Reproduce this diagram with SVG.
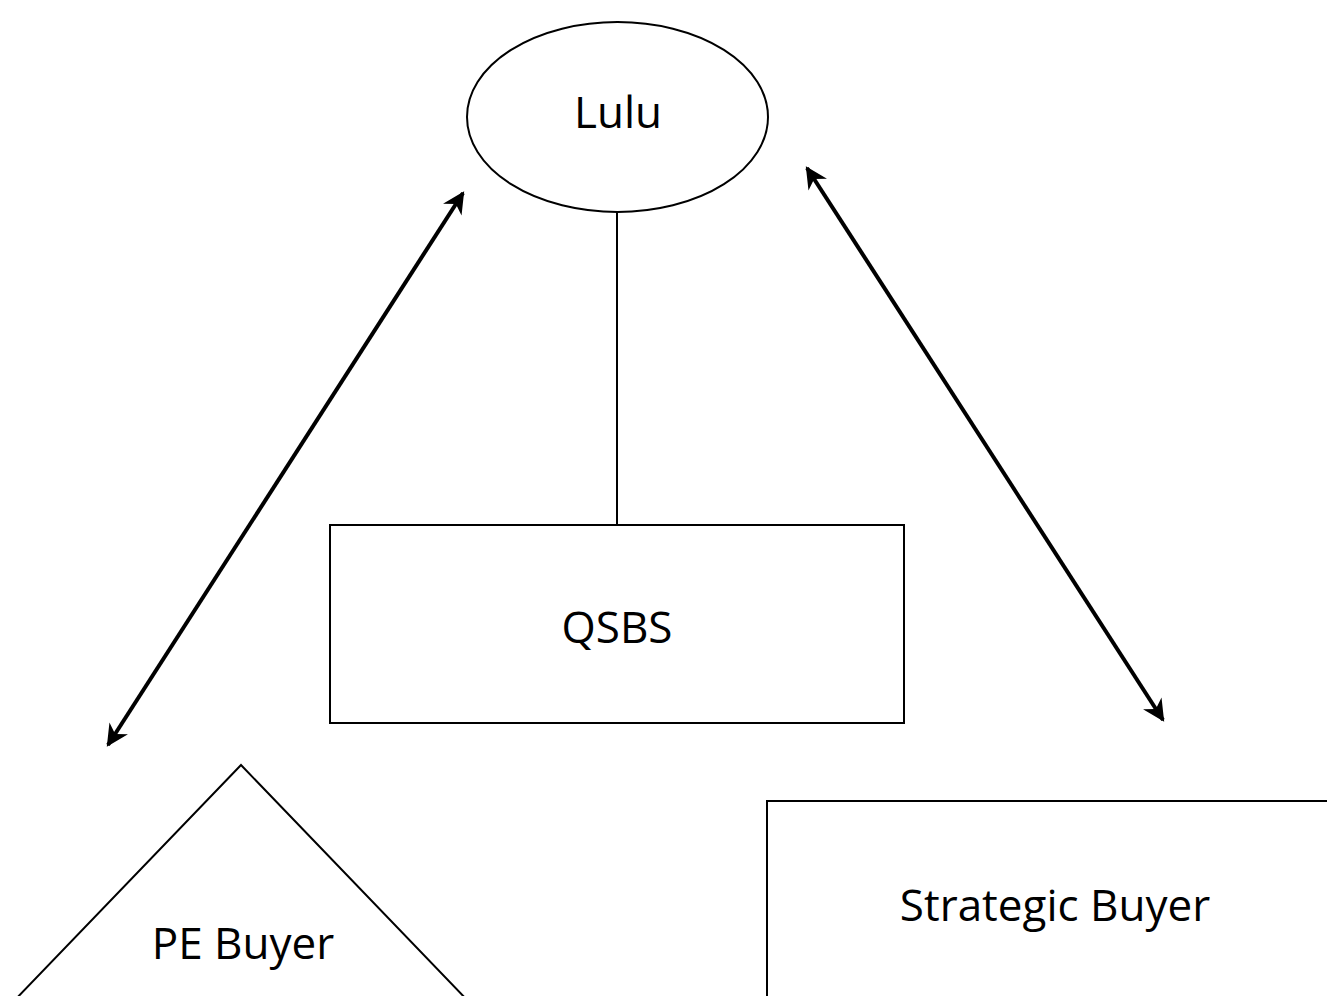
<svg xmlns="http://www.w3.org/2000/svg" width="1327" height="996" viewBox="0 0 1327 996">
<style>
.shape{fill:#fff;stroke:#000;stroke-width:2}
.lbl{font-family:"Open Sans","Noto Sans",sans-serif;font-size:44px;fill:#000;text-anchor:middle}
.conn{stroke:#000;fill:none}
</style>
<defs>
<marker id="ah" viewBox="0 0 10 10" refX="9" refY="5" markerWidth="5.5" markerHeight="5.5" orient="auto-start-reverse">
<path d="M0,0 L10,5 L0,10 L3,5 Z" fill="#000"/>
</marker>
</defs>
<rect width="1327" height="996" fill="#fff"/>
<g id="connectors">
<line class="conn" x1="617" y1="211" x2="617" y2="525" stroke-width="2"/>
<line class="conn" x1="463" y1="193" x2="108" y2="745" stroke-width="4" marker-start="url(#ah)" marker-end="url(#ah)"/>
<line class="conn" x1="807" y1="168" x2="1163" y2="720" stroke-width="4" marker-start="url(#ah)" marker-end="url(#ah)"/>
</g>
<g id="lulu">
<ellipse class="shape" cx="617.5" cy="117" rx="150.5" ry="95"/>
<text class="lbl" x="618" y="128">Lulu</text>
</g>
<g id="qsbs">
<rect class="shape" x="330" y="525" width="574" height="198"/>
<text class="lbl" x="617" y="643">QSBS</text>
</g>
<g id="pe-buyer">
<polygon class="shape" points="241,765 470,1003 12,1003"/>
<text class="lbl" x="243" y="959">PE Buyer</text>
</g>
<g id="strategic-buyer">
<rect class="shape" x="767" y="801" width="600" height="240"/>
<text class="lbl" x="1055" y="921">Strategic Buyer</text>
</g>
</svg>
